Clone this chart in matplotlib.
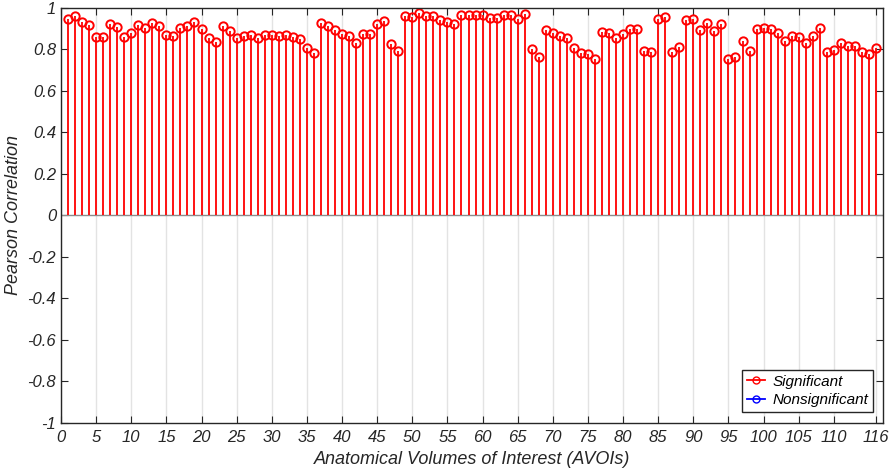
import numpy as np
import matplotlib.pyplot as plt

plt.rcParams['font.family'] = ['Liberation Sans', 'DejaVu Sans']
plt.rcParams['font.style'] = 'italic'

# Pearson correlation per AVOI (1..116), all significant
r_sig = [0.947, 0.960, 0.932, 0.918, 0.862, 0.859, 0.924, 0.907, 0.862, 0.881,
         0.920, 0.902, 0.926, 0.915, 0.871, 0.865, 0.902, 0.915, 0.933, 0.899,
         0.854, 0.836, 0.915, 0.888, 0.854, 0.866, 0.871, 0.854, 0.868, 0.868,
         0.864, 0.871, 0.860, 0.851, 0.806, 0.782, 0.926, 0.915, 0.895, 0.876,
         0.864, 0.833, 0.876, 0.873, 0.923, 0.937, 0.828, 0.794, 0.960, 0.957,
         0.974, 0.960, 0.960, 0.940, 0.934, 0.923, 0.965, 0.968, 0.968, 0.965,
         0.950, 0.953, 0.965, 0.965, 0.945, 0.973, 0.802, 0.765, 0.892, 0.878,
         0.864, 0.857, 0.809, 0.785, 0.777, 0.753, 0.884, 0.878, 0.854, 0.876,
         0.899, 0.899, 0.794, 0.789, 0.948, 0.957, 0.786, 0.814, 0.940, 0.945,
         0.892, 0.929, 0.889, 0.923, 0.753, 0.764, 0.839, 0.794, 0.900, 0.904,
         0.899, 0.881, 0.843, 0.864, 0.860, 0.831, 0.866, 0.905, 0.789, 0.798,
         0.829, 0.818, 0.815, 0.786, 0.777, 0.806]
avoi = np.arange(1, len(r_sig) + 1)
xticks = list(range(0, 111, 5)) + [116]
yticks = [-1, -0.8, -0.6, -0.4, -0.2, 0, 0.2, 0.4, 0.6, 0.8, 1]

fig = plt.figure(figsize=(8.89, 4.70), dpi=100)
ax = fig.add_axes([0.0686, 0.1, 0.9247, 0.883])

ax.grid(axis='x', color='#e3e3e3', linewidth=1.0, zorder=0)
ax.set_axisbelow(True)

markers, stems, base = ax.stem(avoi, r_sig, linefmt='r-', markerfmt='o', basefmt=' ')
stems.set_linewidth(1.3)
markers.set_color('red')
markers.set_markerfacecolor('none')
markers.set_markersize(6)
markers.set_markeredgewidth(1.4)
ax.axhline(0, color='#8c8c8c', linewidth=1.0, zorder=1)

# legend handles (no nonsignificant AVOIs here)
ax.plot([], [], 'r-o', mfc='none', ms=5, lw=1.3, label='Significant')
ax.plot([], [], 'b-o', mfc='none', ms=5, lw=1.3, label='Nonsignificant')
leg = ax.legend(loc='lower right', fontsize=11, fancybox=False, framealpha=1,
                edgecolor='#262626', handlelength=1.2, handletextpad=0.5,
                borderpad=0.3, labelspacing=0.3, borderaxespad=0,
                bbox_to_anchor=(0.988, 0.027))
leg.get_frame().set_linewidth(1.0)

ax.set_xlim(0, 117)
ax.set_ylim(-1, 1)
ax.set_xticks(xticks)
ax.set_yticks(yticks)
ax.set_yticklabels([f'{v:g}' for v in yticks])
ax.tick_params(direction='in', top=True, right=True, labelsize=12,
               colors='#262626', length=5)
ax.tick_params(axis='x', pad=5)
for s in ax.spines.values():
    s.set_color('#262626')
    s.set_linewidth(1.0)

ax.set_xlabel('Anatomical Volumes of Interest (AVOIs)', fontsize=13, color='#262626', labelpad=4)
ax.set_ylabel('Pearson Correlation', fontsize=13, color='#262626', labelpad=4)

fig.savefig('out.png', dpi=100)
